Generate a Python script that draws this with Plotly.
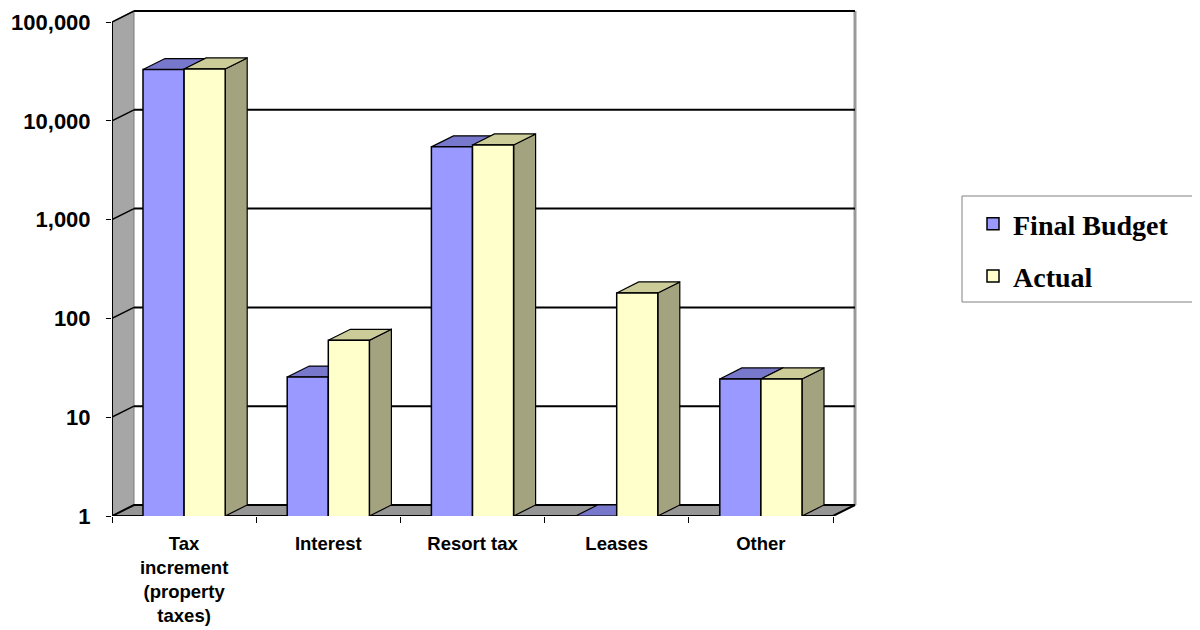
import math
import plotly.graph_objects as go

# ---------------- data ----------------
categories = ["Tax increment (property taxes)", "Interest", "Resort tax", "Leases", "Other"]
tick_labels = ["Tax<br>increment<br>(property<br>taxes)", "Interest", "Resort tax", "Leases", "Other"]
series_names = ["Final Budget", "Actual"]
final_budget = [33000, 25.5, 5450, 0, 24.4]
actual = [33500, 60, 5700, 181, 24.4]
y_tick_values = [1, 10, 100, 1000, 10000, 100000]
y_tick_labels = ["1", "10", "100", "1,000", "10,000", "100,000"]

# ---------------- styles ----------------
FRONT = ["#9999FF", "#FFFFCC"]
TOP = ["#7777CC", "#CCCC99"]
SIDE = ["#6B6BAD", "#A3A380"]
LEFT_WALL = "#A6A6A6"
FLOOR = "#969696"

OFF = 8                                  # page body margin
W, H = 1200 - OFF, 630 - OFF
FRONT_LEFT, FRONT_RIGHT = 112 - OFF, 833 - OFF   # front plane, px
FLOOR_Y, TOP_Y = 516 - OFF, 22 - OFF             # y of lowest / highest tick, px
DEPTH_X, DEPTH_Y = 22, 11                # oblique depth, px
PAD_R, PAD_T = 3, 3
BARGAP = 0.43
LEG_BOX = (962 - OFF, 196 - OFF, 1195 - OFF, 302 - OFF)   # left, top, right, bottom px

n = len(categories)
decades = math.log10(y_tick_values[-1]) - math.log10(y_tick_values[0])
cat_px = (FRONT_RIGHT - FRONT_LEFT) / n
dec_px = (FLOOR_Y - TOP_Y) / decades
D = DEPTH_X / cat_px                    # depth in category units
K = 10 ** (DEPTH_Y / dec_px)            # depth as a log-factor
ymin, ymax = y_tick_values[0], y_tick_values[-1]
xl, xr = -0.5, n - 0.5

x_range = [xl, xr + (DEPTH_X + PAD_R) / cat_px]
y_range = [math.log10(ymin), math.log10(ymax) + (DEPTH_Y + PAD_T) / dec_px]
plot_left = FRONT_LEFT
plot_right = FRONT_RIGHT + DEPTH_X + PAD_R
plot_top = TOP_Y - DEPTH_Y - PAD_T
plot_bottom = FLOOR_Y
plot_w = plot_right - plot_left
plot_h = plot_bottom - plot_top

shapes = []


def poly(pts, fill, line="black", width=1.2):
    path = "M " + " L ".join(f"{x},{y}" for x, y in pts) + " Z"
    shapes.append(dict(type="path", path=path, xref="x", yref="y", layer="below",
                       fillcolor=fill, line=dict(color=line, width=width)))


def seg(x0, y0, x1, y1, color="black", width=1.5):
    shapes.append(dict(type="line", x0=x0, y0=y0, x1=x1, y1=y1, xref="x", yref="y",
                       layer="below", line=dict(color=color, width=width)))


# left wall
poly([(xl, ymin), (xl, ymax), (xl + D, ymax * K), (xl + D, ymin * K)], LEFT_WALL, "#7A7A7A", 1)
# back-wall right edge
seg(xr + D, ymin * K, xr + D, ymax * K, "#9A9A9A", 3)
# gridlines on left wall and back wall
for v in y_tick_values[1:]:
    seg(xl, v, xl + D, v * K, "black", 1.5)
    seg(xl + D, v * K, xr + D, v * K, "black", 2)
# floor
poly([(xl, ymin), (xr, ymin), (xr + D, ymin * K), (xl + D, ymin * K)], FLOOR, "black", 2)
# front edge of left wall
seg(xl, ymin, xl, ymax, "black", 2)

# 3D faces of the bars
w = (1 - BARGAP) / 2
series = [final_budget, actual]
for i in range(n):
    for s, vals in enumerate(series):
        v = max(vals[i], ymin)
        x0 = i - w if s == 0 else i
        x1 = x0 + w
        if v > ymin:
            poly([(x1, ymin), (x1, v), (x1 + D, v * K), (x1 + D, ymin * K)], SIDE[s], "black", 1.2)
        poly([(x0, v), (x1, v), (x1 + D, v * K), (x0 + D, v * K)], TOP[s], "black", 1.2)

# legend frame
shapes.append(dict(
    type="rect", xref="paper", yref="paper", layer="below",
    x0=(LEG_BOX[0] - plot_left) / plot_w, x1=(LEG_BOX[2] - plot_left) / plot_w,
    y0=(plot_bottom - LEG_BOX[3]) / plot_h, y1=(plot_bottom - LEG_BOX[1]) / plot_h,
    line=dict(color="#808080", width=1), fillcolor="white",
))

fig = go.Figure()
for s, vals in enumerate(series):
    fig.add_trace(go.Bar(
        x=categories, y=[v if v > 0 else None for v in vals], name=series_names[s],
        legendgroup=series_names[s],
        marker=dict(color=FRONT[s], line=dict(color="black", width=1.5)),
        hoverinfo="skip",
    ))

fig.update_layout(
    width=W, height=H, autosize=False,
    margin=dict(l=plot_left, r=W - plot_right, t=plot_top, b=H - plot_bottom, pad=0),
    paper_bgcolor="white", plot_bgcolor="white",
    barmode="group", bargap=BARGAP, bargroupgap=0,
    shapes=shapes,
    hovermode=False,
    showlegend=True,
    legend=dict(
        x=(973 - OFF - plot_left) / plot_w, y=(plot_bottom - (199 - OFF)) / plot_h,
        xanchor="left", yanchor="top",
        bgcolor="rgba(0,0,0,0)", borderwidth=0,
        traceorder="grouped", tracegroupgap=13,
        font=dict(family="Liberation Serif, Times New Roman, serif", size=28,
                  color="black", weight="bold"),
    ),
    xaxis=dict(
        type="category", range=x_range, tickvals=categories, ticktext=tick_labels,
        tickson="boundaries", ticks="outside", ticklen=6, tickcolor="black", tickwidth=1,
        showgrid=False, showline=False, zeroline=False, ticklabelstandoff=14,
        tickfont=dict(family="Liberation Sans, Arial, sans-serif", size=18.5,
                      color="black", weight="bold"),
    ),
    yaxis=dict(
        type="log", range=y_range, tickvals=y_tick_values, ticktext=y_tick_labels,
        ticks="outside", ticklen=5, tickcolor="black", tickwidth=1,
        showgrid=False, showline=False, zeroline=False, ticklabelstandoff=11,
        tickfont=dict(family="Liberation Sans, Arial, sans-serif", size=22,
                      color="black", weight="bold"),
    ),
)

fig.write_html("out.html")
